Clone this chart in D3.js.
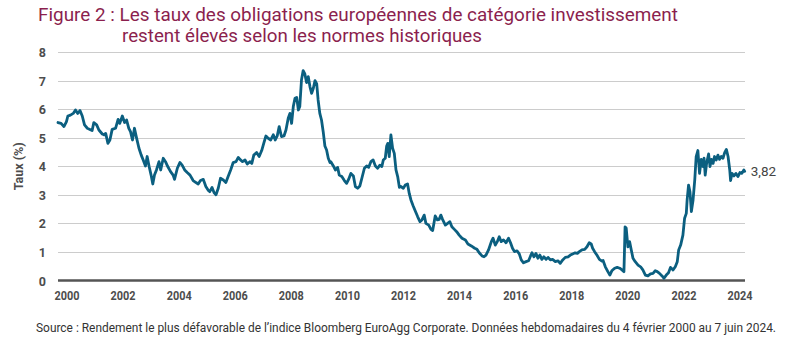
<!DOCTYPE html>
<html lang="fr">
<head>
<meta charset="utf-8">
<script src="https://cdn.jsdelivr.net/npm/d3@7/dist/d3.min.js"></script>
<style>
  body { margin: 0; background: #fff; }
  svg { display: block; font-family: Roboto, "Noto Sans", sans-serif; }
  .tick-label { font-weight: 700; fill: #4d4d4d; font-size: 12.5px; }
</style>
</head>
<body>
<div class="chart"></div>
<script>
var svgWidth = 800;
var svgHeight = 348;

// weekly series, thinned: decimal year and yield (%)
var years = [
  2000.10, 2000.21, 2000.31, 2000.40, 2000.45, 2000.54, 2000.64, 2000.72, 2000.80, 2000.88,
  2000.96, 2001.04, 2001.14, 2001.23, 2001.31, 2001.37, 2001.47, 2001.55, 2001.67, 2001.73,
  2001.79, 2001.87, 2001.94, 2002.02, 2002.14, 2002.23, 2002.29, 2002.38, 2002.46, 2002.53,
  2002.61, 2002.67, 2002.74, 2002.81, 2002.88, 2002.97, 2003.05, 2003.12, 2003.20, 2003.26,
  2003.33, 2003.40, 2003.46, 2003.52, 2003.59, 2003.68, 2003.74, 2003.83, 2003.91, 2003.99,
  2004.09, 2004.18, 2004.23, 2004.33, 2004.42, 2004.50, 2004.59, 2004.68, 2004.78, 2004.89,
  2004.99, 2005.07, 2005.15, 2005.25, 2005.34, 2005.43, 2005.48, 2005.56, 2005.63, 2005.70,
  2005.78, 2005.86, 2005.96, 2006.05, 2006.13, 2006.22, 2006.31, 2006.41, 2006.49, 2006.55,
  2006.64, 2006.73, 2006.81, 2006.90, 2006.97, 2007.04, 2007.14, 2007.23, 2007.32, 2007.40,
  2007.47, 2007.55, 2007.64, 2007.73, 2007.80, 2007.87, 2007.94, 2008.02, 2008.11, 2008.18,
  2008.26, 2008.32, 2008.38, 2008.44, 2008.50, 2008.56, 2008.62, 2008.67, 2008.73, 2008.79,
  2008.85, 2008.91, 2008.97, 2009.03, 2009.09, 2009.15, 2009.21, 2009.27, 2009.32, 2009.38,
  2009.44, 2009.50, 2009.56, 2009.62, 2009.68, 2009.74, 2009.77, 2009.86, 2009.93, 2010.01,
  2010.07, 2010.16, 2010.25, 2010.33, 2010.40, 2010.48, 2010.57, 2010.64, 2010.72, 2010.80,
  2010.87, 2010.96, 2011.04, 2011.11, 2011.19, 2011.27, 2011.35, 2011.43, 2011.51, 2011.58,
  2011.63, 2011.70, 2011.75, 2011.79, 2011.84, 2011.90, 2011.96, 2012.02, 2012.08, 2012.14,
  2012.20, 2012.25, 2012.34, 2012.41, 2012.49, 2012.55, 2012.61, 2012.69, 2012.76, 2012.85,
  2012.93, 2013.00, 2013.08, 2013.14, 2013.24, 2013.32, 2013.38, 2013.47, 2013.55, 2013.61,
  2013.67, 2013.73, 2013.83, 2013.91, 2013.99, 2014.06, 2014.15, 2014.23, 2014.32, 2014.42,
  2014.54, 2014.63, 2014.75, 2014.87, 2014.95, 2015.03, 2015.13, 2015.20, 2015.27, 2015.36,
  2015.46, 2015.52, 2015.60, 2015.67, 2015.74, 2015.81, 2015.89, 2015.98, 2016.07, 2016.14,
  2016.21, 2016.28, 2016.37, 2016.45, 2016.52, 2016.60, 2016.69, 2016.78, 2016.85, 2016.90,
  2016.97, 2017.04, 2017.11, 2017.18, 2017.25, 2017.32, 2017.40, 2017.47, 2017.55, 2017.63,
  2017.73, 2017.82, 2017.90, 2017.99, 2018.08, 2018.18, 2018.26, 2018.34, 2018.43, 2018.51,
  2018.58, 2018.67, 2018.77, 2018.85, 2018.93, 2019.00, 2019.05, 2019.12, 2019.20, 2019.29,
  2019.38, 2019.42, 2019.50, 2019.59, 2019.66, 2019.73, 2019.83, 2019.92, 2020.01, 2020.09,
  2020.16, 2020.20, 2020.24, 2020.30, 2020.36, 2020.42, 2020.48, 2020.56, 2020.66, 2020.75,
  2020.83, 2020.92, 2021.01, 2021.10, 2021.19, 2021.27, 2021.34, 2021.42, 2021.51, 2021.58,
  2021.66, 2021.74, 2021.81, 2021.90, 2021.98, 2022.05, 2022.10, 2022.17, 2022.25, 2022.31,
  2022.37, 2022.40, 2022.45, 2022.50, 2022.55, 2022.61, 2022.67, 2022.72, 2022.78, 2022.84,
  2022.90, 2022.96, 2023.00, 2023.04, 2023.09, 2023.16, 2023.21, 2023.26, 2023.32, 2023.37,
  2023.43, 2023.49, 2023.55, 2023.61, 2023.67, 2023.73, 2023.79, 2023.85, 2023.91, 2023.94,
  2023.99, 2024.06, 2024.13, 2024.20, 2024.27, 2024.34, 2024.41, 2024.44
];

var rates = [
  5.53, 5.50, 5.39, 5.56, 5.76, 5.79, 5.85, 5.97, 5.85, 5.95,
  5.76, 5.45, 5.33, 5.29, 5.25, 5.53, 5.45, 5.27, 5.13, 5.10,
  5.15, 4.80, 4.92, 5.29, 5.33, 5.64, 5.50, 5.76, 5.53, 5.62,
  5.33, 5.21, 4.92, 5.33, 5.01, 4.63, 4.39, 4.22, 4.01, 4.34,
  3.99, 3.69, 3.38, 3.69, 3.87, 4.16, 3.87, 4.28, 4.16, 3.99,
  3.81, 3.69, 3.54, 3.93, 4.13, 4.04, 3.87, 3.78, 3.69, 3.50,
  3.43, 3.38, 3.50, 3.54, 3.29, 3.15, 3.11, 3.26, 3.08, 3.00,
  3.23, 3.58, 3.52, 3.43, 3.64, 3.87, 4.13, 4.16, 4.31, 4.24,
  4.16, 4.22, 4.08, 4.16, 4.10, 4.39, 4.48, 4.34, 4.55, 4.83,
  5.06, 4.98, 4.92, 5.10, 4.92, 5.06, 5.39, 5.04, 5.06, 5.27,
  5.68, 5.85, 5.50, 6.09, 6.38, 6.41, 5.97, 6.09, 7.02, 7.35,
  7.23, 6.93, 7.14, 6.79, 6.55, 6.73, 7.00, 6.88, 6.32, 5.85,
  5.62, 5.21, 4.71, 4.57, 4.28, 4.13, 4.16, 4.01, 3.87, 3.96,
  3.69, 3.64, 3.50, 3.40, 3.54, 3.75, 3.66, 3.29, 3.23, 3.31,
  3.58, 3.93, 4.01, 3.96, 4.16, 4.22, 4.01, 3.93, 4.04, 3.99,
  4.22, 4.28, 4.71, 4.80, 4.34, 5.10, 4.63, 4.45, 3.87, 3.64,
  3.26, 3.29, 3.23, 3.34, 3.38, 3.05, 2.82, 2.61, 2.44, 2.23,
  2.06, 2.12, 2.29, 2.00, 1.94, 1.79, 1.75, 2.26, 2.12, 2.14,
  2.29, 2.14, 1.94, 2.00, 2.06, 1.88, 1.79, 1.71, 1.59, 1.48,
  1.42, 1.28, 1.21, 1.13, 1.09, 0.97, 0.86, 0.83, 0.89, 1.07,
  1.36, 1.48, 1.24, 1.36, 1.53, 1.36, 1.42, 1.32, 1.48, 1.32,
  1.13, 1.01, 1.04, 0.93, 0.72, 0.62, 0.66, 0.69, 0.86, 0.97,
  0.83, 0.95, 0.78, 0.89, 0.74, 0.83, 0.74, 0.81, 0.72, 0.74,
  0.66, 0.69, 0.60, 0.72, 0.81, 0.83, 0.89, 0.93, 0.97, 0.95,
  1.01, 1.07, 1.09, 1.18, 1.32, 1.28, 1.13, 1.01, 0.89, 0.74,
  0.68, 0.70, 0.48, 0.31, 0.19, 0.34, 0.43, 0.46, 0.43, 0.37,
  0.31, 1.88, 1.83, 1.18, 1.36, 1.07, 0.78, 0.66, 0.54, 0.48,
  0.37, 0.19, 0.16, 0.23, 0.25, 0.34, 0.31, 0.25, 0.16, 0.08,
  0.19, 0.27, 0.46, 0.37, 0.48, 0.66, 1.07, 1.24, 1.59, 2.18,
  2.35, 2.82, 3.34, 3.11, 2.41, 2.82, 3.52, 4.34, 4.55, 3.75,
  4.24, 3.99, 4.28, 3.69, 4.10, 4.43, 3.99, 4.24, 4.10, 4.34,
  4.22, 4.39, 4.24, 4.34, 4.28, 4.48, 4.59, 4.34, 3.87, 3.50,
  3.75, 3.66, 3.75, 3.64, 3.78, 3.75, 3.87, 3.82
];

var yTicks = [0, 1, 2, 3, 4, 5, 6, 7, 8];
var yearLabels = [2000, 2002, 2004, 2006, 2008, 2010, 2012, 2014, 2016, 2018, 2020, 2022, 2024];

var titleLines = [
  "Figure 2 : Les taux des obligations européennes de catégorie investissement",
  "restent élevés selon les normes historiques"
];
var sourceText = "Source : Rendement le plus défavorable de l\u2019indice Bloomberg EuroAgg Corporate. Données hebdomadaires du 4 février 2000 au 7 juin 2024.";

var data = years.map(function (yr, i) { return { year: yr, rate: rates[i] }; });

var plot = { left: 58, right: 745, top: 52, bottom: 280.5 };

var svg = d3.select(".chart")
  .append("svg")
  .attr("width", svgWidth)
  .attr("height", svgHeight);

// squeeze a text element to a given width (the house font is condensed)
function fitWidth(sel, w) {
  sel.attr("textLength", w).attr("lengthAdjust", "spacingAndGlyphs");
}

// title, two lines, second one hangs after "Figure 2 : "
svg.append("text")
  .attr("x", 38).attr("y", 21)
  .attr("fill", "#8b1f4e")
  .style("font-size", "18.5px")
  .text(titleLines[0])
  .call(fitWidth, 640);

svg.append("text")
  .attr("x", 122).attr("y", 41.5)
  .attr("fill", "#8b1f4e")
  .style("font-size", "18.5px")
  .text(titleLines[1])
  .call(fitWidth, 360);

// scales
var xScale = d3.scaleLinear()
  .domain([years[0], years[years.length - 1]])
  .range([plot.left, 744.7]);

var labelScale = d3.scaleLinear()
  .domain([2000, 2024])
  .range([66.5, 739.5]);

var yScale = d3.scaleLinear()
  .domain([0, 8])
  .range([plot.bottom, plot.top]);

// horizontal gridlines
svg.append("g")
  .selectAll("line")
  .data(yTicks.filter(function (d) { return d > 0; }))
  .enter()
  .append("line")
  .attr("x1", plot.left)
  .attr("x2", plot.right)
  .attr("y1", function (d) { return Math.round(yScale(d)) + 0.5; })
  .attr("y2", function (d) { return Math.round(yScale(d)) + 0.5; })
  .attr("stroke", "#cccccc")
  .attr("stroke-width", 1);

// y axis labels
var leftAxis = d3.axisLeft(yScale)
  .tickValues(yTicks)
  .tickSize(0)
  .tickPadding(0);

var yAxis = svg.append("g")
  .attr("transform", "translate(46, 0)")
  .call(leftAxis);
yAxis.select(".domain").remove();
yAxis.selectAll("text")
  .attr("class", "tick-label")
  .attr("dy", "0.36em")
  .style("font-family", "Roboto, sans-serif");

// x axis labels
var bottomAxis = d3.axisBottom(labelScale)
  .tickValues(yearLabels)
  .tickFormat(d3.format("d"))
  .tickSize(0)
  .tickPadding(0);

var xAxis = svg.append("g")
  .attr("transform", "translate(0, 291)")
  .call(bottomAxis);
xAxis.select(".domain").remove();
xAxis.selectAll("text")
  .attr("class", "tick-label")
  .attr("dy", "0.71em")
  .style("font-family", "Roboto, sans-serif")
  .each(function () { d3.select(this).call(fitWidth, 25); });

// baseline
svg.append("line")
  .attr("x1", plot.left)
  .attr("x2", plot.right)
  .attr("y1", yScale(0))
  .attr("y2", yScale(0))
  .attr("stroke", "#555555")
  .attr("stroke-width", 2.5);

// axis title
svg.append("text")
  .attr("transform", "translate(19, " + (yScale(4)) + ") rotate(-90)")
  .attr("text-anchor", "middle")
  .attr("dy", "0.35em")
  .attr("class", "tick-label")
  .style("font-size", "12.5px")
  .text("Taux (%)");

// the series
var line = d3.line()
  .x(function (d) { return xScale(d.year); })
  .y(function (d) { return yScale(d.rate); });

svg.append("path")
  .datum(data)
  .attr("d", line)
  .attr("fill", "none")
  .attr("stroke", "#0b5f80")
  .attr("stroke-width", 2.8)
  .attr("stroke-linejoin", "round")
  .attr("stroke-linecap", "round");

// last value label
var last = data[data.length - 1];
svg.append("text")
  .attr("x", xScale(last.year) + 6)
  .attr("y", yScale(last.rate))
  .attr("dy", "0.35em")
  .attr("fill", "#444444")
  .style("font-size", "13.5px")
  .text(d3.format(".2f")(last.rate).replace(".", ","));

// source note
svg.append("text")
  .attr("x", 36).attr("y", 332)
  .attr("fill", "#333333")
  .style("font-size", "12px")
  .text(sourceText)
  .call(fitWidth, 740);
</script>
</body>
</html>
